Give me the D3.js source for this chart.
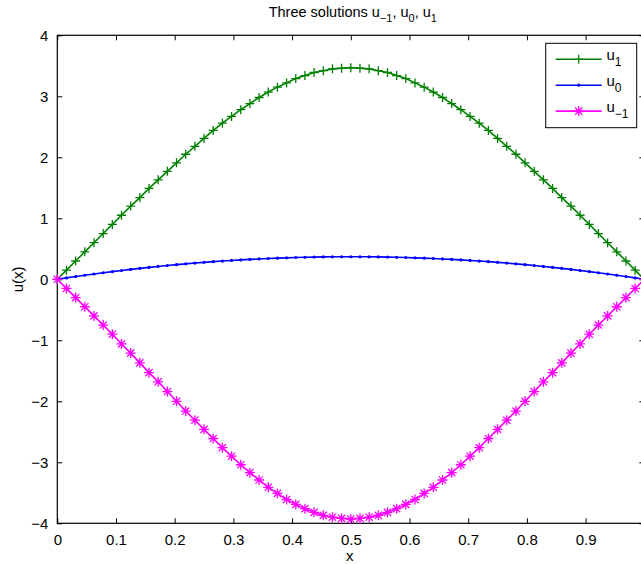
<!DOCTYPE html>
<html><head><meta charset="utf-8">
<script src="https://cdn.jsdelivr.net/npm/d3@7"></script>
<style>body{margin:0;background:#fff}svg{display:block;font-family:"Liberation Sans",Arial,Helvetica,sans-serif}</style>
</head><body><svg id="c" width="641" height="564"></svg>
<script>
// x grid: i/64, i = 0..64
const xIndex = d3.range(65);
const xStep = 64;
const u1Half = [0,0.15,0.30,0.45,0.60,0.75,0.90,1.05,1.20,1.34,1.49,1.63,1.77,1.91,2.05,2.18,2.31,2.44,2.56,2.67,2.78,2.88,2.98,3.07,3.15,3.22,3.29,3.34,3.39,3.42,3.45,3.46,3.47];
const u0Half = [0,0.023,0.045,0.066,0.087,0.107,0.126,0.144,0.162,0.179,0.195,0.211,0.225,0.240,0.253,0.266,0.278,0.289,0.299,0.309,0.318,0.326,0.334,0.341,0.347,0.352,0.357,0.361,0.364,0.367,0.369,0.370,0.370];
const um1Half = [0,-0.15,-0.30,-0.45,-0.60,-0.75,-0.90,-1.06,-1.21,-1.37,-1.53,-1.68,-1.84,-2.00,-2.16,-2.31,-2.46,-2.61,-2.76,-2.90,-3.04,-3.17,-3.29,-3.41,-3.51,-3.61,-3.69,-3.76,-3.82,-3.87,-3.90,-3.92,-3.93];
// symmetric about x = 0.5
const mirror = h => h.concat(h.slice(0, 32).reverse());
const u1 = mirror(u1Half), u0 = mirror(u0Half), um1 = mirror(um1Half);
const xTicks = [0,0.1,0.2,0.3,0.4,0.5,0.6,0.7,0.8,0.9];
const yTicks = [-4,-3,-2,-1,0,1,2,3,4];
const titleParts = ["Three solutions u", "\u22121", ", u", "0", ", u", "1"];
const seriesNames = [["u","1"],["u","0"],["u","\u22121"]];

const svg = d3.select("#c");
const L = 57.3, R = 644.3, T = 35.3, B = 523.3;
const x = d3.scaleLinear().domain([0,1]).range([L,R]);
const y = d3.scaleLinear().domain([-4,4]).range([B,T]);
const fmt = v => (v < 0 ? "\u2212" : "") + Math.abs(v);

const g = svg.append("g");
g.append("rect").attr("x",L).attr("y",T).attr("width",R-L).attr("height",B-T)
  .attr("fill","none").attr("stroke","#000").attr("stroke-width",1.2);

const xb = g.append("g").attr("transform",`translate(0,${B})`)
  .call(d3.axisBottom(x).tickValues(xTicks).tickSizeInner(-5).tickSizeOuter(0).tickPadding(11).tickFormat(d => d3.format("")(d)));
const xt = g.append("g").attr("transform",`translate(0,${T})`)
  .call(d3.axisTop(x).tickValues(xTicks).tickSizeInner(-5).tickSizeOuter(0).tickFormat(""));
const yl = g.append("g").attr("transform",`translate(${L},0)`)
  .call(d3.axisLeft(y).tickValues(yTicks).tickSizeInner(-5).tickSizeOuter(0).tickPadding(9).tickFormat(fmt));
const yr = g.append("g").attr("transform",`translate(${R},0)`)
  .call(d3.axisRight(y).tickValues(yTicks).tickSizeInner(-5).tickSizeOuter(0).tickFormat(""));
[xb,xt,yl,yr].forEach(a => {
  a.select(".domain").remove();
  a.selectAll("line").attr("stroke","#000").attr("stroke-width",1);
  a.selectAll("text").attr("fill","#000").style("font-size","15px").style("font-family","'Liberation Sans',Arial,sans-serif");
});

const line = d3.line().x(d => x(d[0]/xStep)).y(d => y(d[1]));
const mk = (arr) => xIndex.map(i => [i, arr[i]]);
const colors = {u1:"#008000", u0:"#0000ff", um1:"#ff00ff"};

function plus(sel, cx, cy, r, col){
  sel.append("path").attr("d",`M${cx-r},${cy}H${cx+r}M${cx},${cy-r}V${cy+r}`).attr("stroke",col).attr("stroke-width",1.3).attr("fill","none");
}
function star(sel, cx, cy, r, col){
  const d = r*0.72;
  sel.append("path").attr("d",`M${cx-r},${cy}H${cx+r}M${cx},${cy-r}V${cy+r}M${cx-d},${cy-d}L${cx+d},${cy+d}M${cx-d},${cy+d}L${cx+d},${cy-d}`)
    .attr("stroke",col).attr("stroke-width",1.3).attr("fill","none");
}
function dot(sel, cx, cy, r, col){
  sel.append("circle").attr("cx",cx).attr("cy",cy).attr("r",r).attr("fill",col);
}

const gs = g.append("g");
[["u1",u1,plus,4.5],["u0",u0,dot,1.6],["um1",um1,star,5]].forEach(([k,arr,m,r]) => {
  const s = gs.append("g");
  s.append("path").datum(mk(arr)).attr("d",line).attr("fill","none").attr("stroke",colors[k]).attr("stroke-width",1.6);
  mk(arr).forEach(d => m(s, x(d[0]/xStep), y(d[1]), r, colors[k]));
});

// title
const tt = svg.append("text").attr("x",(L+R)/2 + 2).attr("y",17).attr("text-anchor","middle")
  .style("font-size","14.5px").attr("fill","#000");
titleParts.forEach((p,i) => {
  const sub = i % 2 === 1;
  tt.append("tspan").text(p).attr("dy", sub ? 5 : (i>0 ? -5 : 0)).style("font-size", sub ? "11px" : "14.5px");
});

svg.append("text").attr("x",(L+R)/2 - 1).attr("y",561).attr("text-anchor","middle").style("font-size","15px").text("x");
svg.append("text").attr("transform",`translate(23,${(T+B)/2}) rotate(-90)`).attr("text-anchor","middle").style("font-size","15px").text("u(x)");

// legend
const lg = svg.append("g");
lg.append("rect").attr("x",545.7).attr("y",43.3).attr("width",91).attr("height",84.4).attr("fill","#fff").attr("stroke","#000").attr("stroke-width",1);
[["u1",plus,4.5],["u0",dot,1.6],["um1",star,5]].forEach(([k,m,r],i) => {
  const cy = 59.3 + i*25.9;
  lg.append("line").attr("x1",555.7).attr("x2",601.7).attr("y1",cy).attr("y2",cy).attr("stroke",colors[k]).attr("stroke-width",1.6);
  m(lg, 578.7, cy, r, colors[k]);
  const t = lg.append("text").attr("x",606.5).attr("y",cy+1).style("font-size","15px").attr("fill","#000");
  t.append("tspan").text(seriesNames[i][0]);
  t.append("tspan").text(seriesNames[i][1]).attr("dy",6).style("font-size","12px");
});
</script></body></html>
